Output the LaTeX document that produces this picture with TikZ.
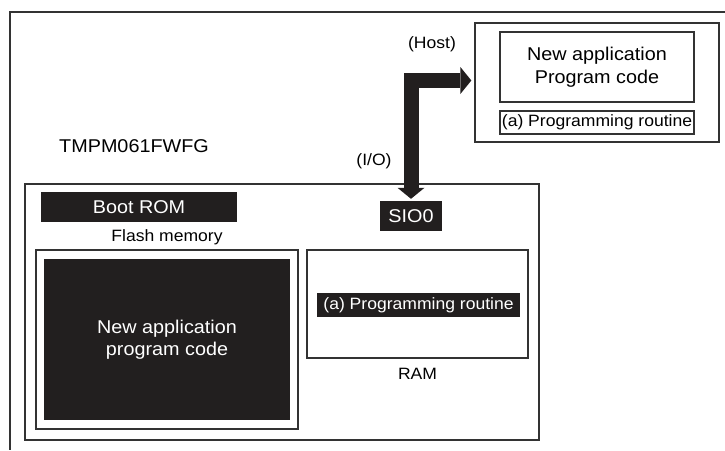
\documentclass[tikz,border=0pt]{standalone}
\usepackage{fontspec}
\setmainfont[FakeStretch=1.07]{Liberation Sans}
\usepackage{tikz}
\usetikzlibrary{arrows.meta}
\definecolor{romdark}{HTML}{221F1F}
\definecolor{edgegray}{HTML}{333333}
\newcommand{\bigtxt}{\fontsize{18.5}{22.5}\selectfont}
\newcommand{\smalltxt}{\fontsize{16.4}{19}\selectfont}

\begin{document}
\begin{tikzpicture}[x=1pt, y=-1pt,
    box/.style={draw=edgegray, line width=1.3pt, inner sep=0pt, align=center},
    darkbox/.style={fill=romdark, text=white, inner sep=0pt, align=center},
    lbl/.style={inner sep=0pt, font=\smalltxt},
    busarrow/.style={draw=romdark, line width=15pt, line join=miter,
        arrows={Triangle[width=27pt, length=11pt, line width=0pt]-Triangle[width=27pt, length=11pt, line width=0pt]}}]
    \useasboundingbox (0,0) rectangle (725,450);

    % outer frame, cut off at the page edge
    \draw[edgegray, line width=1.6pt] (725,12) -- (10,12) -- (10,450);

    % host side
    \node[box, minimum width=244pt, minimum height=119pt] (host) at (597,82.5) {};
    \node[box, minimum width=194pt, minimum height=70pt, font=\bigtxt] (hostcode) at (597,67) {New application\\Program code};
    \node[box, minimum width=194pt, minimum height=23pt, font=\smalltxt] (hostroutine) at (597,122.5) {(a) Programming routine};
    \node[lbl] (hostlbl) at (432,44) {(Host)};

    % the microcontroller
    \node[font=\bigtxt, inner sep=0pt] (mcuname) at (134,146) {TMPM061FWFG};
    \node[box, minimum width=514pt, minimum height=256pt] (mcu) at (282,312) {};
    \node[darkbox, minimum width=196pt, minimum height=30pt, font=\bigtxt] (bootrom) at (139,207) {Boot ROM};
    \node[darkbox, minimum width=62pt, minimum height=30pt, font=\bigtxt] (sio) at (411,216) {SIO0};
    \node[lbl] (iolbl) at (374,161) {(I/O)};

    \node[lbl] (flashlbl) at (167,237) {Flash memory};
    \node[box, minimum width=262pt, minimum height=179pt] (flash) at (167,339.5) {};
    \node[darkbox, minimum width=246pt, minimum height=161pt, font=\bigtxt] (flashcode) at (167,339.5) {New application\\program code};

    \node[box, minimum width=221pt, minimum height=108pt] (ram) at (417.5,304) {};
    \node[darkbox, minimum width=203pt, minimum height=24pt, font=\smalltxt] (ramroutine) at (418.5,305) {(a) Programming routine};
    \node[lbl] (ramlbl) at (417.5,374) {RAM};

    % SIO0 <-> host
    \draw[busarrow, shorten <=2pt, shorten >=3pt] (sio.north) |- ([yshift=2pt]host.west);
\end{tikzpicture}
\end{document}
